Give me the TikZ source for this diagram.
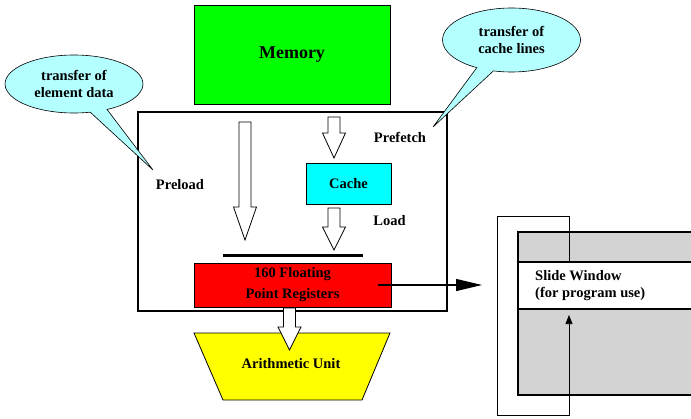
\documentclass[tikz,border=0pt]{standalone}
\usepackage{fontspec}
\setmainfont{Liberation Serif}
\usetikzlibrary{arrows.meta}
\usetikzlibrary{shapes.callouts}
\definecolor{memgreen}{RGB}{0,255,0}
\definecolor{cachecyan}{RGB}{0,255,255}
\definecolor{regred}{RGB}{255,0,0}
\definecolor{aluyellow}{RGB}{255,255,0}
\definecolor{bubblecyan}{RGB}{180,255,255}
\definecolor{wingray}{RGB}{211,211,211}
\newcommand{\lblfont}{\fontsize{14.5}{17}\selectfont\bfseries}
\newcommand{\hollowdown}[4]{% x, top, head start, tip
\filldraw[fill=white,draw=black,line width=0.8pt] (#1-6,#2) -- (#1+6,#2) -- (#1+6,#3)
 -- (#1+11.5,#3) -- (#1,#4) -- (#1-11.5,#3) -- (#1-6,#3) -- cycle;}

\begin{document}
\begin{tikzpicture}[x=1pt,y=-1pt,
unit/.style={draw=black,line width=1pt,inner sep=0pt,font=\lblfont,align=center},
bubble/.style={ellipse callout,draw=black,line width=0.6pt,fill=bubblecyan,inner sep=0pt,
 font=\lblfont,align=center,minimum width=138pt,minimum height=58pt},
tag/.style={font=\lblfont,inner sep=0pt}]
\useasboundingbox (0,0) rectangle (691,418);
% memory hierarchy
\node[unit,fill=memgreen,minimum width=196pt,minimum height=99pt,
 font=\fontsize{18}{21}\selectfont\bfseries] (mem) at (292,54.5) {Memory};
\node[draw=black,line width=1.2pt,minimum width=309pt,minimum height=199pt] (core) at (292.5,211.5) {};
\node[unit,fill=cachecyan,minimum width=85pt,minimum height=41pt] (cache) at (348.5,183.5) {Cache};
\node[unit,fill=regred,minimum width=197pt,minimum height=44pt,
 font=\fontsize{14.5}{21}\selectfont\bfseries] (regs) at (292.5,285) {160 Floating\\Point Registers};
\draw[line width=3pt] (223,255) -- (363,255);
\hollowdown{245}{122}{207}{240}
\hollowdown{334}{117}{133}{158}
\hollowdown{334}{208}{227}{250}
\filldraw[fill=aluyellow,draw=black,line width=0.8pt] (194,333) -- (390,333) -- (362,400) -- (223,400) -- cycle;
\node[tag] (alu) at (291,364) {Arithmetic Unit};
\hollowdown{289.5}{308}{327}{350}
\node[tag] (preload) at (180,185) {Preload};
\node[tag] (prefetch) at (400,137) {Prefetch};
\node[tag] (load) at (389.5,221) {Load};
% callouts
\node[bubble,callout absolute pointer={(153,170)}] (elemcall) at (74,84) {transfer of\\element data};
\node[bubble,minimum height=64pt,callout absolute pointer={(433,127)}] (linecall) at (511.5,40) {transfer of\\cache lines};
% slide window
\filldraw[fill=wingray,draw=black,line width=1.5pt] (518,232) rectangle (695,395);
\filldraw[fill=white,draw=black,line width=1.5pt] (518,262) rectangle (695,309);
\node[tag,anchor=west,align=left] (slide) at (535,285.5) {Slide Window\\(for program use)};
\draw[line width=0.6pt,-{Triangle[length=9pt,width=7pt]}] (569,262) -- (569,216) -- (497,216)
 -- (497,415) -- (569,415) -- (569,315);
\coordinate (winl) at (482,285);
\draw[line width=1.2pt,-{Triangle[length=26pt,width=12pt]}] ([xshift=-14pt]regs.east) -- (winl);
\end{tikzpicture}
\end{document}
